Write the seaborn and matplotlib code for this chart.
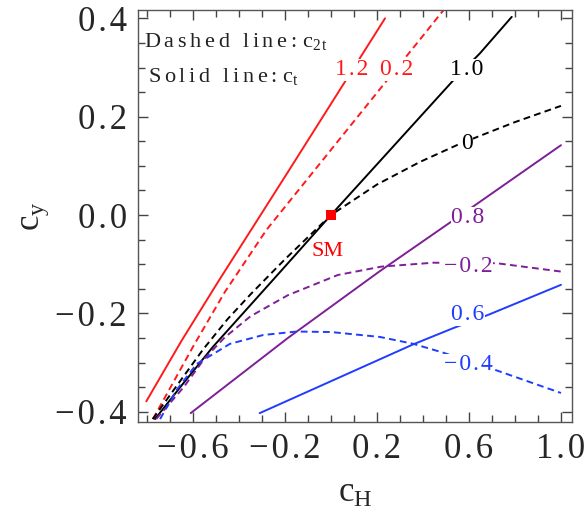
import matplotlib
matplotlib.use("Agg")
import matplotlib.pyplot as plt
import seaborn as sns
import numpy as np

# ---- data (x = c_H, y = c_y) ----
# solid lines: c_t contours
ct12_x = [-0.803, -0.65, -0.491, -0.200, 0.235]
ct12_y = [-0.379, -0.256, -0.136, 0.078, 0.400]
ct10_x = [-0.765, -0.65, -0.513, -0.252, 0.0, 0.532, 0.648, 0.786]
ct10_y = [-0.415, -0.347, -0.268, -0.132, 0.0, 0.274, 0.329, 0.403]
ct08_x = [-0.610, -0.187, 0.210, 0.648, 1.0]
ct08_y = [-0.403, -0.250, -0.115, 0.027, 0.142]
ct06_x = [-0.310, 0.358, 0.532, 0.684, 1.0]
ct06_y = [-0.403, -0.263, -0.230, -0.203, -0.142]
# dashed lines: c_2t contours
c2t02_x = [-0.774, -0.600, -0.462, -0.280, 0.030, 0.242, 0.387, 0.488]
c2t02_y = [-0.415, -0.268, -0.157, -0.030, 0.150, 0.273, 0.357, 0.416]
c2t00_x = [-0.775, -0.650, -0.557, -0.450, -0.347, -0.200, 0.0, 0.200, 0.387, 0.561, 0.800, 1.0]
c2t00_y = [-0.415, -0.334, -0.274, -0.212, -0.160, -0.090, 0.0, 0.062, 0.108, 0.145, 0.189, 0.222]
c2tm02_x = [-0.760, -0.640, -0.550, -0.462, -0.350, -0.187, 0.030, 0.219, 0.445, 0.720, 1.0]
c2tm02_y = [-0.415, -0.350, -0.292, -0.249, -0.206, -0.163, -0.122, -0.105, -0.097, -0.098, -0.115]
c2tm04_x = [-0.743, -0.670, -0.584, -0.439, -0.294, -0.149, 0.0, 0.213, 0.358, 0.488, 0.720, 1.0]
c2tm04_y = [-0.415, -0.355, -0.303, -0.262, -0.244, -0.237, -0.238, -0.248, -0.262, -0.280, -0.316, -0.362]

# contour labels: text, x, y
label_text = ["1.2", "0.2", "1.0", "0", "0.8", "\u22120.2", "0.6", "\u22120.4"]
label_x = [0.091, 0.287, 0.591, 0.591, 0.596, 0.596, 0.596, 0.596]
label_y = [0.295, 0.295, 0.295, 0.146, -0.006, -0.104, -0.203, -0.305]

x_ticks = [-0.6, -0.2, 0.2, 0.6, 1.0]
x_ticklabels = ["\u22120.6", "\u22120.2", "0.2", "0.6", "1.0"]
y_ticks = [-0.4, -0.2, 0.0, 0.2, 0.4]
y_ticklabels = ["\u22120.4", "\u22120.2", "0.0", "0.2", "0.4"]

sm_x, sm_y = [0.0], [0.0]

RED = "#ff1a1a"
PURPLE = "#7d1f96"
BLUE = "#1f3cff"
BLACK = "#000000"

HS = "\u200a"   # hair space
SS = "\u2006"   # six-per-em space


def spaced(s, sep=HS):
    return sep.join(s)


sns.set_theme(style="ticks")
plt.rcParams["font.family"] = ["Liberation Serif", "DejaVu Serif"]
plt.rcParams["mathtext.fontset"] = "custom"
plt.rcParams["mathtext.rm"] = "Liberation Serif"
plt.rcParams["mathtext.it"] = "Liberation Serif:italic"

fig = plt.figure(figsize=(5.85, 5.13), dpi=100)
ax = fig.add_axes([138 / 585, 1 - 422 / 513, (572 - 138) / 585, (422 - 10) / 513])

dash = (0, (3.5, 2.2))
curves = [
    (ct12_x, ct12_y, RED, "-"),
    (c2t02_x, c2t02_y, RED, dash),
    (ct10_x, ct10_y, BLACK, "-"),
    (c2t00_x, c2t00_y, BLACK, dash),
    (ct08_x, ct08_y, PURPLE, "-"),
    (c2tm02_x, c2tm02_y, PURPLE, dash),
    (ct06_x, ct06_y, BLUE, "-"),
    (c2tm04_x, c2tm04_y, BLUE, dash),
]
for xs, ys, col, ls in curves:
    sns.lineplot(x=xs, y=ys, color=col, linestyle=ls, linewidth=1.4,
                 sort=False, estimator=None, ax=ax)

label_colors = [RED, RED, BLACK, BLACK, PURPLE, PURPLE, BLUE, BLUE]
for t, lx, ly, c in zip(label_text, label_x, label_y, label_colors):
    ax.text(lx, ly, spaced(t), color=c, fontsize=17, ha="center", va="center",
            bbox=dict(facecolor="white", edgecolor="none", pad=0.3), zorder=5)

sns.scatterplot(x=sm_x, y=sm_y, marker="s", s=55, color="red", edgecolor="none",
                ax=ax, zorder=6)
ax.text(-0.013, -0.075, "SM", color="red", fontsize=16, ha="center", va="center")

ax.text(-0.815, 0.352, spaced("Dashed line:", SS) + " " + r"$\mathrm{c_{2\,t}}$",
        fontsize=16, ha="left", va="center", color="#222222")
ax.text(-0.795, 0.282, spaced("Solid line:", SS) + " " + r"$\mathrm{c_t}$",
        fontsize=16, ha="left", va="center", color="#222222")

ax.set_xlim(-0.839, 1.048)
ax.set_ylim(-0.421, 0.417)
ax.set_xticks(x_ticks)
ax.set_xticklabels([spaced(t) for t in x_ticklabels])
ax.set_yticks(y_ticks)
ax.set_yticklabels([spaced(t) for t in y_ticklabels])
ax.set_xticks(np.round(np.arange(-0.8, 1.01, 0.1), 2), minor=True)
ax.set_yticks(np.round(np.arange(-0.4, 0.41, 0.05), 3), minor=True)
ax.tick_params(which="both", direction="in", top=True, right=True,
               color="#444444", width=1.0)
ax.tick_params(which="major", length=7, labelsize=25, pad=8)
ax.tick_params(which="minor", length=5)
for s in ax.spines.values():
    s.set_color("#555555")
    s.set_linewidth(1.0)

ax.set_xlabel(r"$\mathrm{c_H}$", fontsize=25, labelpad=8)
ax.set_ylabel(r"$\mathrm{c_y}$", fontsize=25, labelpad=3)

fig.savefig("out.png", dpi=100)
